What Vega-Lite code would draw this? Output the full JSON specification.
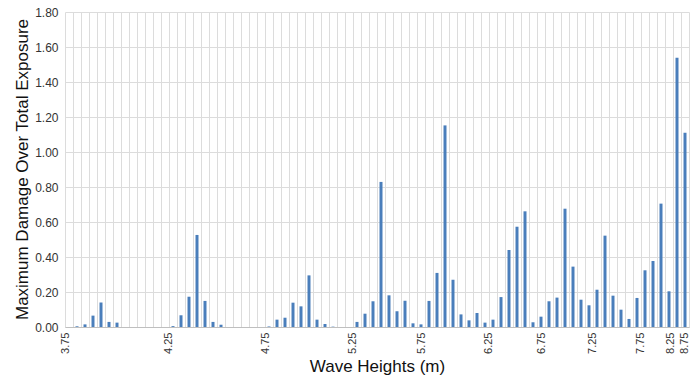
{
  "$schema": "https://vega.github.io/schema/vega-lite/v6.json",
  "autosize": {"type": "none"},
  "padding": {"left": 65, "top": 12, "right": 2, "bottom": 50},
  "width": 624,
  "height": 315,
  "background": "white",
  "config": {
    "view": {"stroke": null},
    "font": "Liberation Sans"
  },
  "data": {
    "values": [
      {"bin": 0, "damage": 0},
      {"bin": 1, "damage": 0.004},
      {"bin": 2, "damage": 0.015},
      {"bin": 3, "damage": 0.065},
      {"bin": 4, "damage": 0.14},
      {"bin": 5, "damage": 0.029},
      {"bin": 6, "damage": 0.025},
      {"bin": 7, "damage": 0},
      {"bin": 8, "damage": 0},
      {"bin": 9, "damage": 0},
      {"bin": 10, "damage": 0},
      {"bin": 11, "damage": 0},
      {"bin": 12, "damage": 0},
      {"bin": 13, "damage": 0.005},
      {"bin": 14, "damage": 0.067},
      {"bin": 15, "damage": 0.173},
      {"bin": 16, "damage": 0.526},
      {"bin": 17, "damage": 0.149},
      {"bin": 18, "damage": 0.029},
      {"bin": 19, "damage": 0.013},
      {"bin": 20, "damage": 0},
      {"bin": 21, "damage": 0},
      {"bin": 22, "damage": 0},
      {"bin": 23, "damage": 0},
      {"bin": 24, "damage": 0},
      {"bin": 25, "damage": 0.003},
      {"bin": 26, "damage": 0.042},
      {"bin": 27, "damage": 0.053},
      {"bin": 28, "damage": 0.139},
      {"bin": 29, "damage": 0.118},
      {"bin": 30, "damage": 0.295},
      {"bin": 31, "damage": 0.042},
      {"bin": 32, "damage": 0.017},
      {"bin": 33, "damage": 0.002},
      {"bin": 34, "damage": 0},
      {"bin": 35, "damage": 0},
      {"bin": 36, "damage": 0.029},
      {"bin": 37, "damage": 0.076},
      {"bin": 38, "damage": 0.147},
      {"bin": 39, "damage": 0.829},
      {"bin": 40, "damage": 0.181},
      {"bin": 41, "damage": 0.09},
      {"bin": 42, "damage": 0.15},
      {"bin": 43, "damage": 0.021},
      {"bin": 44, "damage": 0.015},
      {"bin": 45, "damage": 0.149},
      {"bin": 46, "damage": 0.309},
      {"bin": 47, "damage": 1.152},
      {"bin": 48, "damage": 0.27},
      {"bin": 49, "damage": 0.072},
      {"bin": 50, "damage": 0.038},
      {"bin": 51, "damage": 0.08},
      {"bin": 52, "damage": 0.025},
      {"bin": 53, "damage": 0.042},
      {"bin": 54, "damage": 0.171},
      {"bin": 55, "damage": 0.44},
      {"bin": 56, "damage": 0.573},
      {"bin": 57, "damage": 0.661},
      {"bin": 58, "damage": 0.027},
      {"bin": 59, "damage": 0.059},
      {"bin": 60, "damage": 0.147},
      {"bin": 61, "damage": 0.168},
      {"bin": 62, "damage": 0.676},
      {"bin": 63, "damage": 0.345},
      {"bin": 64, "damage": 0.156},
      {"bin": 65, "damage": 0.124},
      {"bin": 66, "damage": 0.213},
      {"bin": 67, "damage": 0.522},
      {"bin": 68, "damage": 0.179},
      {"bin": 69, "damage": 0.099},
      {"bin": 70, "damage": 0.046},
      {"bin": 71, "damage": 0.166},
      {"bin": 72, "damage": 0.324},
      {"bin": 73, "damage": 0.377},
      {"bin": 74, "damage": 0.705},
      {"bin": 75, "damage": 0.204},
      {"bin": 76, "damage": 1.539},
      {"bin": 77, "damage": 1.11}
    ]
  },
  "mark": {"type": "bar", "size": 3, "color": "#4a7ebb"},
  "encoding": {
    "x": {
      "field": "bin",
      "type": "quantitative",
      "scale": {"domain": [-0.5, 77.5], "nice": false, "zero": false, "padding": 0},
      "axis": {
        "title": "Wave Heights (m)",
        "titleFontSize": 17,
        "titleFontWeight": "normal",
        "titleColor": "#111111",
        "titleY": 39,
        "titleBaseline": "middle",
        "values": [-0.5, 0.5, 1.5, 2.5, 3.5, 4.5, 5.5, 6.5, 7.5, 8.5, 9.5, 10.5, 11.5, 12.5, 13.5, 14.5, 15.5, 16.5, 17.5, 18.5, 19.5, 20.5, 21.5, 22.5, 23.5, 24.5, 25.5, 26.5, 27.5, 28.5, 29.5, 30.5, 31.5, 32.5, 33.5, 34.5, 35.5, 36.5, 37.5, 38.5, 39.5, 40.5, 41.5, 42.5, 43.5, 44.5, 45.5, 46.5, 47.5, 48.5, 49.5, 50.5, 51.5, 52.5, 53.5, 54.5, 55.5, 56.5, 57.5, 58.5, 59.5, 60.5, 61.5, 62.5, 63.5, 64.5, 65.5, 66.5, 67.5, 68.5, 69.5, 70.5, 71.5, 72.5, 73.5, 74.5, 75.5, 76.5, 77.5, -0.45, 12.49, 24.6, 35.49, 44.06, 52.44, 59.06, 65.44, 71.38, 75.13, 76.95],
        "labelExpr": "indexof([-0.45, 12.49, 24.6, 35.49, 44.06, 52.44, 59.06, 65.44, 71.38, 75.13, 76.95], datum.value) < 0 ? '' : ['3.75', '4.25', '4.75', '5.25', '5.75', '6.25', '6.75', '7.25', '7.75', '8.25', '8.75'][indexof([-0.45, 12.49, 24.6, 35.49, 44.06, 52.44, 59.06, 65.44, 71.38, 75.13, 76.95], datum.value)]",
        "labelAngle": 270,
        "labelFontSize": 11,
        "labelColor": "#333333",
        "labelPadding": 5,
        "labelOverlap": false,
        "labelFlush": false,
        "labelBound": false,
        "ticks": false,
        "domain": true,
        "domainColor": "#bfbfbf",
        "domainWidth": 1,
        "grid": true,
        "gridColor": "#dcdcdc",
        "gridWidth": 1,
        "gridOpacity": {
          "condition": {"test": "abs(datum.value - floor(datum.value) - 0.5) > 0.001", "value": 0},
          "value": 1
        }
      }
    },
    "y": {
      "field": "damage",
      "type": "quantitative",
      "scale": {"domain": [0, 1.8], "nice": false},
      "axis": {
        "title": "Maximum Damage Over Total Exposure",
        "titleFontSize": 17,
        "titleFontWeight": "normal",
        "titleColor": "#111111",
        "titleX": -43,
        "titleY": 157,
        "titleAlign": "center",
        "titleBaseline": "middle",
        "titleAngle": 270,
        "values": [0, 0.2, 0.4, 0.6, 0.8, 1.0, 1.2, 1.4, 1.6, 1.8],
        "format": ".2f",
        "labelFontSize": 12,
        "labelColor": "#333333",
        "labelPadding": 7,
        "ticks": false,
        "domain": false,
        "grid": true,
        "gridColor": "#dcdcdc",
        "gridWidth": 1
      }
    }
  }
}
